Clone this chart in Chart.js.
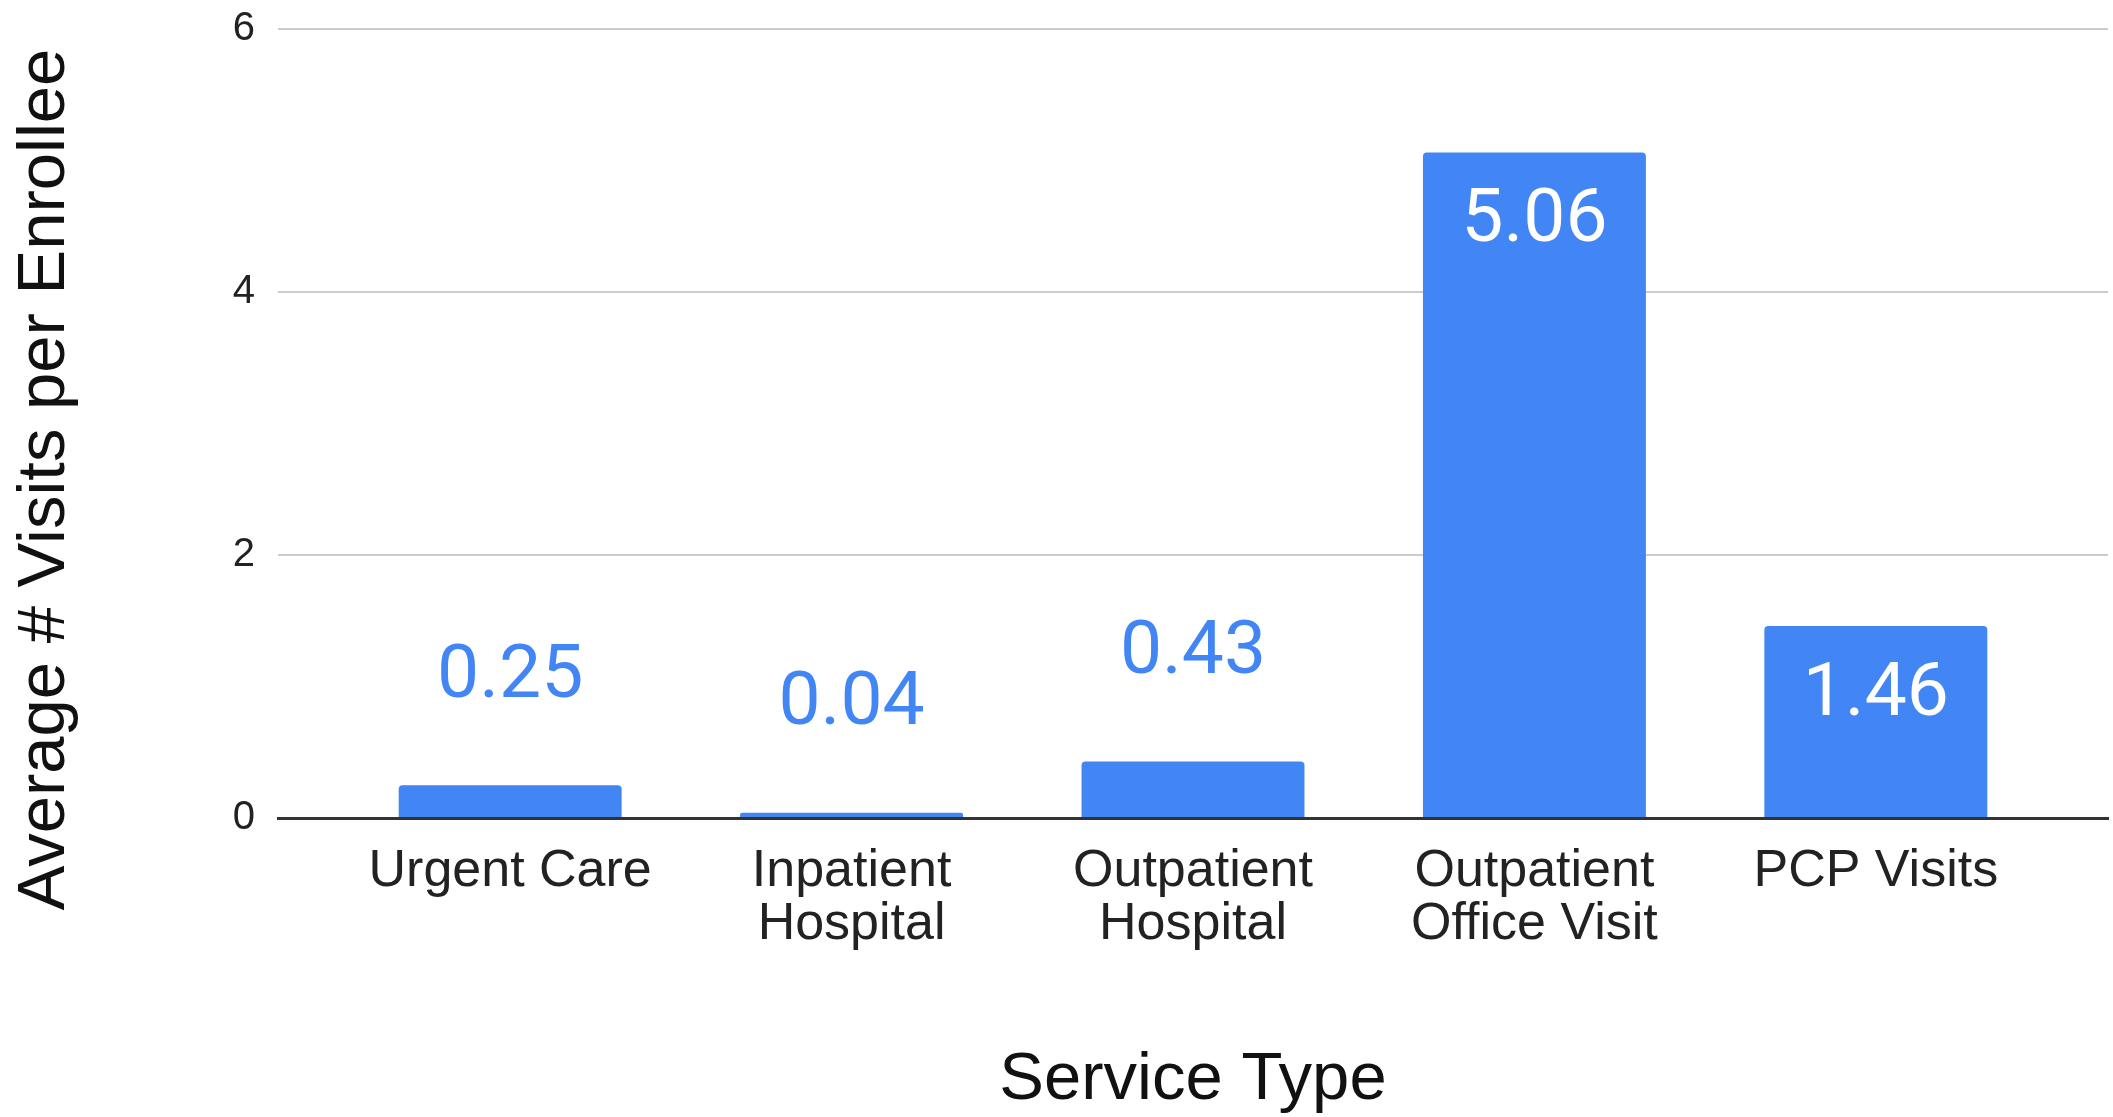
<!DOCTYPE html>
<html>
<head>
<meta charset="utf-8">
<title>Average # Visits per Enrollee by Service Type</title>
<script src="https://cdn.jsdelivr.net/npm/chart.js@4/dist/chart.umd.min.js"></script>
<style>
  html, body { margin: 0; padding: 0; background: #ffffff; }
  canvas { display: block; }
</style>
</head>
<body>
<canvas id="chart" width="2113" height="1117"></canvas>
<script>
// Service types (each entry is the wrapped tick label, one string per line)
const serviceTypes = [
  ['Urgent Care'],
  ['Inpatient', 'Hospital'],
  ['Outpatient', 'Hospital'],
  ['Outpatient', 'Office Visit'],
  ['PCP Visits']
];

// Average number of visits per enrollee
const avgVisits = [0.25, 0.04, 0.43, 5.06, 1.46];

// Value axis ticks
const yTicks = [0, 2, 4, 6];

const yAxisTitle = 'Average # Visits per Enrollee';
const xAxisTitle = 'Service Type';

const BAR_BLUE = '#4285f4';
const SANS = '"Liberation Sans", Arial, sans-serif';
const LABEL_FONT = 'Roboto, "Liberation Sans", Arial, sans-serif';

// Value labels: inside the bar (white) when it is tall enough, above it (blue) otherwise
const valueLabels = {
  id: 'valueLabels',
  afterDatasetsDraw(chart) {
    const ctx = chart.ctx;
    const meta = chart.getDatasetMeta(0);
    ctx.save();
    ctx.font = '75px ' + LABEL_FONT;
    ctx.textAlign = 'center';
    ctx.textBaseline = 'middle';
    meta.data.forEach((bar, i) => {
      const v = avgVisits[i];
      const h = bar.base - bar.y;
      const text = v.toFixed(2);
      if (h > 120) {
        ctx.fillStyle = '#ffffff';
        ctx.fillText(text, bar.x, bar.y + 70);
      } else {
        ctx.fillStyle = BAR_BLUE;
        ctx.fillText(text, bar.x, bar.y - 107);
      }
    });
    ctx.restore();
  }
};

// Vertical axis title, set a little below the middle of the plot
const sideTitle = {
  id: 'sideTitle',
  afterDraw(chart) {
    const { ctx, chartArea } = chart;
    ctx.save();
    ctx.font = '67px ' + SANS;
    ctx.fillStyle = '#111111';
    ctx.textAlign = 'center';
    ctx.textBaseline = 'middle';
    ctx.translate(chartArea.left - 232, (chartArea.top + chartArea.bottom) / 2 + 56);
    ctx.rotate(-Math.PI / 2);
    ctx.fillText(yAxisTitle, 0, 0);
    ctx.restore();
  }
};

new Chart(document.getElementById('chart'), {
  type: 'bar',
  data: {
    datasets: [{
      label: yAxisTitle,
      data: avgVisits.map((v, i) => ({ x: i, y: v })),
      backgroundColor: BAR_BLUE,
      borderWidth: 0,
      borderRadius: { topLeft: 4, topRight: 4, bottomLeft: 0, bottomRight: 0 },
      borderSkipped: 'start',
      categoryPercentage: 1.0,
      barPercentage: 0.653
    }]
  },
  options: {
    responsive: false,
    animation: false,
    layout: { padding: { top: 29, right: 5, bottom: 0, left: 0 } },
    plugins: {
      legend: { display: false },
      tooltip: { enabled: false }
    },
    scales: {
      x: {
        type: 'linear',
        offset: false,
        min: -0.68,
        max: serviceTypes.length - 1 + 0.68,
        grid: { display: false, drawTicks: false, offset: false },
        border: { display: true, color: '#333333', width: 3 },
        ticks: {
          stepSize: 1,
          includeBounds: false,
          autoSkip: false,
          maxRotation: 0,
          minRotation: 0,
          padding: 27,
          color: '#222222',
          font: { family: SANS, size: 52, lineHeight: 1.02 },
          callback: (value) => serviceTypes[value] || ''
        },
        title: {
          display: true,
          text: xAxisTitle,
          color: '#111111',
          font: { family: SANS, size: 67, lineHeight: 1.1 },
          padding: { top: 0, bottom: 0 }
        },
        afterFit(scale) { scale.height = 299; }
      },
      y: {
        min: yTicks[0],
        max: yTicks[yTicks.length - 1],
        afterBuildTicks(scale) { scale.ticks = yTicks.map(v => ({ value: v })); },
        grid: {
          color: '#cccccc',
          lineWidth: 2,
          drawTicks: true,
          tickLength: 23,
          tickColor: 'rgba(0,0,0,0)'
        },
        border: { display: false },
        ticks: {
          padding: 0,
          color: '#222222',
          font: { family: SANS, size: 40 }
        },
        title: { display: false },
        afterFit(scale) { scale.width = 278; }
      }
    }
  },
  plugins: [valueLabels, sideTitle]
});
</script>
</body>
</html>
